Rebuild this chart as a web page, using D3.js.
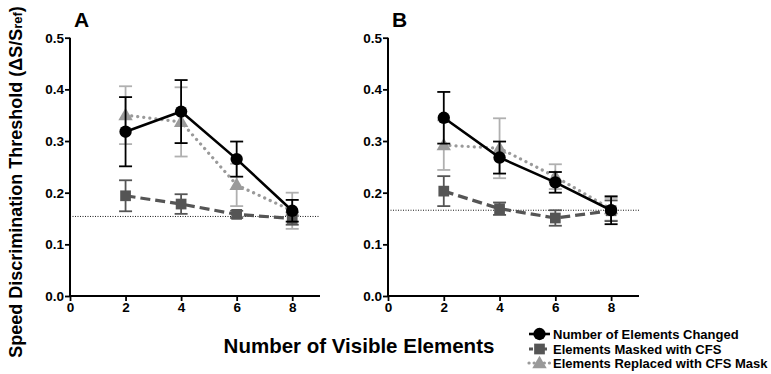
<!DOCTYPE html>
<html>
<head>
<meta charset="utf-8">
<script src="https://cdn.jsdelivr.net/npm/d3@7"></script>
<style>
  body { margin: 0; background: #fff; }
  svg { font-family: "Liberation Sans", Arial, sans-serif; font-weight: bold; }
</style>
</head>
<body>
<div id="chart"></div>
<script>
const width = 771, height = 374;

// ──── Data ────
const elements = [2, 4, 6, 8];
const yTicks = [0, 0.1, 0.2, 0.3, 0.4, 0.5];
const xTicks = [0, 2, 4, 6, 8];

const seriesNames = ["Number of Elements Changed", "Elements Masked with CFS", "Elements Replaced with CFS Mask"];

// panel A
const aChanged = [0.318, 0.357, 0.265, 0.165];
const aChangedErr = [0.067, 0.061, 0.034, 0.021];
const aMasked = [0.194, 0.178, 0.158, 0.150];
const aMaskedErr = [0.030, 0.019, 0.007, 0.012];
const aReplaced = [0.350, 0.337, 0.215, 0.165];
const aReplacedErr = [0.056, 0.067, 0.041, 0.035];
const aBaseline = 0.154;

// panel B
const bChanged = [0.345, 0.268, 0.220, 0.166];
const bChangedErr = [0.050, 0.031, 0.020, 0.027];
const bMasked = [0.203, 0.169, 0.151, 0.165];
const bMaskedErr = [0.029, 0.012, 0.015, 0.020];
const bReplaced = [0.292, 0.286, 0.231, 0.168];
const bReplacedErr = [0.048, 0.058, 0.024, 0.022];
const bBaseline = 0.166;

// ──── Styles per series ────
const styles = {
    changed:  { color: "#000", bar: "#000", dash: null, width: 2.6, shape: d3.symbolCircle, size: 120 },
    masked:   { color: "#555", bar: "#555", dash: "10,5", width: 3.2, shape: d3.symbolSquare, size: 115 },
    replaced: { color: "#9a9a9a", bar: "#b0b0b0", dash: "0.1,6", width: 3.2, shape: d3.symbolTriangle, size: 90 }
};

const svg = d3.select("#chart").append("svg")
    .attr("width", width)
    .attr("height", height);

const y = d3.scaleLinear().domain([0, 0.5]).range([296, 37.7]);

function panel(label, x0, x1, data) {
    const x = d3.scaleLinear().domain([0, 9]).range([x0, x1]);
    const g = svg.append("g");

    // baseline
    g.append("line")
        .attr("x1", x(0)).attr("x2", x(9))
        .attr("y1", y(data.baseline)).attr("y2", y(data.baseline))
        .attr("stroke", "#000").attr("stroke-width", 0.9)
        .attr("stroke-dasharray", "1,1.5");

    // axes
    const yAxis = g.append("g")
        .attr("transform", `translate(${x(0)},0)`)
        .call(d3.axisLeft(y).tickValues(yTicks).tickFormat(d3.format(".1f")).tickSize(5).tickPadding(1));
    const xAxis = g.append("g")
        .attr("transform", `translate(0,${y(0)})`)
        .call(d3.axisBottom(x).tickValues(xTicks).tickSize(5).tickPadding(1));
    [yAxis, xAxis].forEach(a => {
        a.select(".domain").attr("stroke-width", 2).attr("d", null);
        a.selectAll(".tick line").attr("stroke-width", 1.8);
        a.selectAll("text").attr("font-size", 13.5).attr("font-weight", "bold")
            .attr("font-family", "'Liberation Sans', Arial, sans-serif").attr("fill", "#000");
    });
    g.append("line").attr("x1", x(0)).attr("x2", x(0)).attr("y1", y(0.5)).attr("y2", y(0) + 1)
        .attr("stroke", "#000").attr("stroke-width", 2);
    g.append("line").attr("x1", x(0) - 1).attr("x2", x(9)).attr("y1", y(0)).attr("y2", y(0))
        .attr("stroke", "#000").attr("stroke-width", 2);

    // series: replaced first, then masked, then changed on top
    ["replaced", "masked", "changed"].forEach(key => {
        const st = styles[key];
        const vals = data[key], errs = data[key + "Err"];
        const pts = elements.map((e, i) => ({ e, v: vals[i], err: errs[i] }));
        const sg = g.append("g");

        // error bars
        const eb = sg.selectAll(".eb").data(pts).join("g");
        eb.append("line")
            .attr("x1", d => x(d.e)).attr("x2", d => x(d.e))
            .attr("y1", d => y(d.v + d.err)).attr("y2", d => y(d.v - d.err))
            .attr("stroke", st.bar).attr("stroke-width", 1.8);
        [1, -1].forEach(s => {
            eb.append("line")
                .attr("x1", d => x(d.e) - 6.5).attr("x2", d => x(d.e) + 6.5)
                .attr("y1", d => y(d.v + s * d.err)).attr("y2", d => y(d.v + s * d.err))
                .attr("stroke", st.bar).attr("stroke-width", 1.8);
        });

        // line
        sg.append("path")
            .datum(pts)
            .attr("fill", "none")
            .attr("stroke", st.color)
            .attr("stroke-width", st.width)
            .attr("stroke-linecap", key === "replaced" ? "round" : "butt")
            .attr("stroke-dasharray", st.dash)
            .attr("d", d3.line().x(d => x(d.e)).y(d => y(d.v)));

        // markers
        sg.selectAll(".m").data(pts).join("path")
            .attr("transform", d => `translate(${x(d.e)},${y(d.v) + (key === "replaced" ? 1 : 0)})`)
            .attr("d", d3.symbol(st.shape, st.size))
            .attr("fill", st.color);
    });

    // panel label
    g.append("text")
        .attr("x", x(0) + 4).attr("y", 27)
        .attr("font-size", 21).attr("font-weight", "bold")
        .text(label);
}

panel("A", 70, 320, {
    baseline: aBaseline,
    changed: aChanged, changedErr: aChangedErr,
    masked: aMasked, maskedErr: aMaskedErr,
    replaced: aReplaced, replacedErr: aReplacedErr
});
panel("B", 388, 639, {
    baseline: bBaseline,
    changed: bChanged, changedErr: bChangedErr,
    masked: bMasked, maskedErr: bMaskedErr,
    replaced: bReplaced, replacedErr: bReplacedErr
});

// Y axis title
const yt = svg.append("text")
    .attr("transform", "translate(22,182) rotate(-90)")
    .attr("text-anchor", "middle")
    .attr("font-size", 18);
yt.append("tspan").text("Speed Discrimination Threshold (ΔS/S");
yt.append("tspan").attr("font-size", 13).text("ref");
yt.append("tspan").text(")");

// X axis title
svg.append("text")
    .attr("x", 359).attr("y", 353)
    .attr("text-anchor", "middle")
    .attr("font-size", 20.5)
    .text("Number of Visible Elements");

// ──── Legend ────
const legend = svg.append("g");
const legendKeys = ["changed", "masked", "replaced"];
const rowY = [334, 349, 363];
legendKeys.forEach((key, i) => {
    const st = styles[key];
    const cy = rowY[i];
    legend.append("line")
        .attr("x1", 529).attr("x2", 550).attr("y1", cy).attr("y2", cy)
        .attr("stroke", st.color).attr("stroke-width", st.width)
        .attr("stroke-linecap", key === "replaced" ? "round" : "butt")
        .attr("stroke-dasharray", key === "masked" ? "4,3" : key === "replaced" ? "0.1,5" : null);
    legend.append("path")
        .attr("transform", `translate(539.5,${cy + (key === "replaced" ? 1 : 0)})`)
        .attr("d", d3.symbol(st.shape, st.size))
        .attr("fill", st.color);
    legend.append("text")
        .attr("x", 553).attr("y", cy + 4.5)
        .attr("font-size", 13)
        .text(seriesNames[i]);
});
</script>
</body>
</html>
